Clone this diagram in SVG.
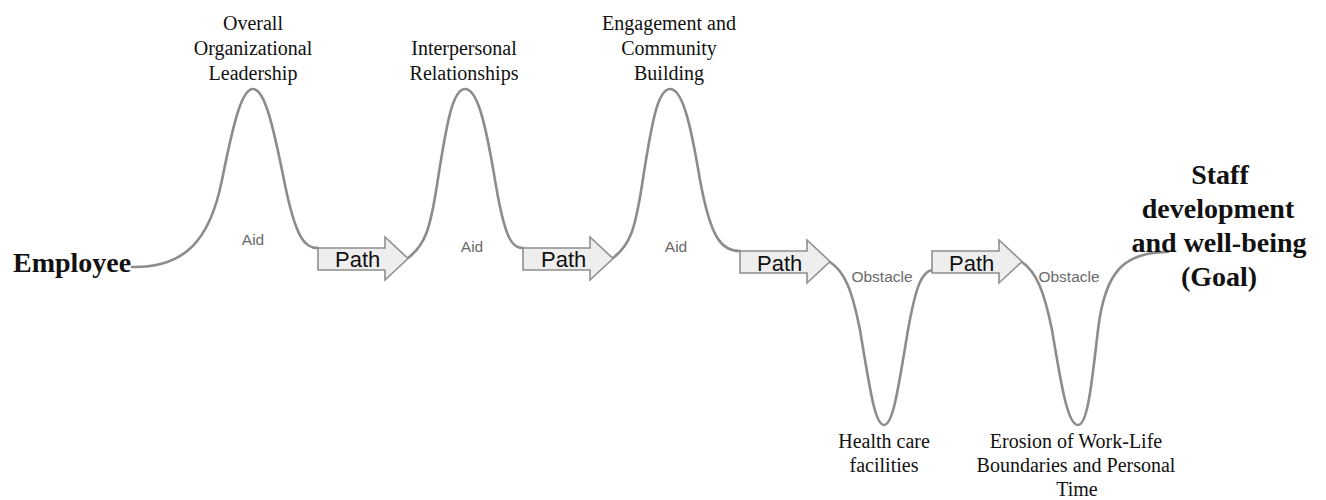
<svg xmlns="http://www.w3.org/2000/svg" width="1326" height="500" viewBox="0 0 1326 500">
  <style>
    .curve { fill: none; stroke: #8c8c8c; stroke-width: 2.6; stroke-linecap: round; }
    .arrow { fill: #eeeeee; stroke: #8f8f8f; stroke-width: 1.6; stroke-linejoin: miter; }
    .path-label { font-family: "Liberation Sans", Arial, sans-serif; font-size: 22px; fill: #111; }
    .tag { font-family: "Liberation Sans", Arial, sans-serif; font-size: 15.5px; fill: #6a6a6a; text-anchor: middle; }
    .factor { font-family: "Liberation Serif", "Times New Roman", serif; font-size: 20px; fill: #111; text-anchor: middle; }
    .endpoint { font-family: "Liberation Serif", "Times New Roman", serif; font-size: 28px; font-weight: bold; fill: #111; }
  </style>
  <defs>
    <!-- block arrow: body 67 wide, head 23 long -->
    <path id="blockArrow" d="M0,0 H67 V-11 L90,10.5 L67,32 V22 H0 Z"/>
  </defs>
  <rect width="1326" height="500" fill="#ffffff"/>

  <!-- the winding route from employee to goal -->
  <g id="connectors">
    <path class="curve" d="M132,267 C185,268 210,240 222,180 C234,120 242,89 253,89 C264,89 272,120 284,180 C296,240 305,248 318,248"/>
    <path class="curve" d="M408,258 C425,245 430,230 437,185 C447,120 453,89 465,89 C477,89 485,120 495,180 C505,240 512,248 523,248"/>
    <path class="curve" d="M613,258 C630,245 635,230 642,185 C652,120 658,89 670,89 C682,89 690,120 700,180 C711,240 722,251 740,251"/>
    <path class="curve" d="M830,262 C845,272 852,290 860,330 C870,390 875,425 884,425 C893,425 898,390 908,330 C916,285 922,272 932,270"/>
    <path class="curve" d="M1022,262 C1036,272 1044,290 1052,330 C1062,390 1068,425 1078,425 C1088,425 1092,380 1098,330 C1105,270 1125,252 1168,252"/>
  </g>

  <g id="employee">
    <text class="endpoint" x="13" y="272">Employee</text>
  </g>

  <g id="goal">
    <text class="endpoint" text-anchor="middle" x="1220" y="184">Staff</text>
    <text class="endpoint" text-anchor="middle" x="1218" y="218">development</text>
    <text class="endpoint" text-anchor="middle" x="1219" y="252">and well-being</text>
    <text class="endpoint" text-anchor="middle" x="1219" y="286">(Goal)</text>
  </g>

  <g id="aid-leadership">
    <text class="factor" x="253" y="30">Overall</text>
    <text class="factor" x="253" y="55">Organizational</text>
    <text class="factor" x="253" y="80">Leadership</text>
    <text class="tag" x="253" y="245">Aid</text>
  </g>

  <g id="aid-relationships">
    <text class="factor" x="464" y="55">Interpersonal</text>
    <text class="factor" x="464" y="80">Relationships</text>
    <text class="tag" x="472" y="252">Aid</text>
  </g>

  <g id="aid-community">
    <text class="factor" x="669" y="30">Engagement and</text>
    <text class="factor" x="669" y="55">Community</text>
    <text class="factor" x="669" y="80">Building</text>
    <text class="tag" x="676" y="252">Aid</text>
  </g>

  <g id="obstacle-healthcare">
    <text class="tag" x="882" y="282">Obstacle</text>
    <text class="factor" x="884" y="448">Health care</text>
    <text class="factor" x="884" y="472">facilities</text>
  </g>

  <g id="obstacle-worklife">
    <text class="tag" x="1069" y="282">Obstacle</text>
    <text class="factor" x="1076" y="448">Erosion of Work-Life</text>
    <text class="factor" x="1076" y="472">Boundaries and Personal</text>
    <text class="factor" x="1077" y="496">Time</text>
  </g>

  <g id="path-1">
    <use href="#blockArrow" class="arrow" x="318" y="248"/>
    <text class="path-label" x="335" y="267">Path</text>
  </g>
  <g id="path-2">
    <use href="#blockArrow" class="arrow" x="523" y="248"/>
    <text class="path-label" x="541" y="267">Path</text>
  </g>
  <g id="path-3">
    <use href="#blockArrow" class="arrow" x="740" y="251"/>
    <text class="path-label" x="757" y="271">Path</text>
  </g>
  <g id="path-4">
    <use href="#blockArrow" class="arrow" x="932" y="251"/>
    <text class="path-label" x="949" y="271">Path</text>
  </g>
</svg>
